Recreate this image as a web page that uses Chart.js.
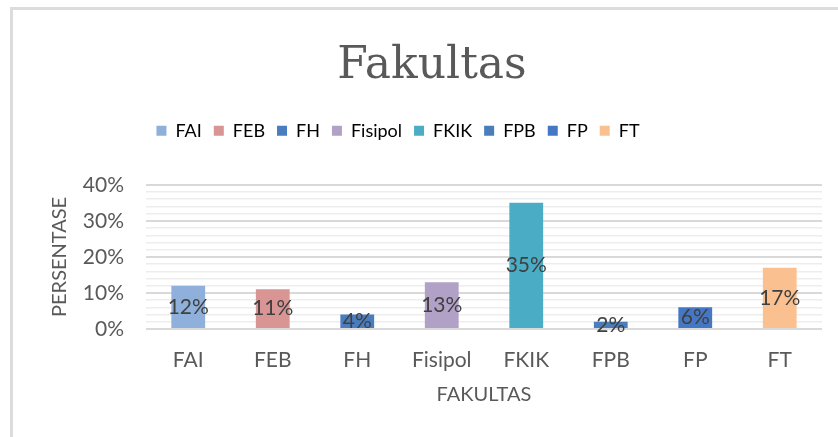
<!DOCTYPE html>
<html>
<head>
<meta charset="utf-8">
<script src="https://cdn.jsdelivr.net/npm/chart.js@4.4.0/dist/chart.umd.min.js"></script>
<style>
  html, body { margin: 0; padding: 0; background: #fff; overflow: hidden; }
  #frame {
    position: absolute; left: 10px; top: 7px; width: 900px; height: 500px;
    border: 3px solid #dcdcdc; box-sizing: border-box;
  }
  #chart { position: absolute; left: 0; top: 0; }
</style>
</head>
<body>
<div id="frame"></div>
<canvas id="chart" width="864" height="437"></canvas>
<script>
const categories = ['FAI', 'FEB', 'FH', 'Fisipol', 'FKIK', 'FPB', 'FP', 'FT'];
const values = [12, 11, 4, 13, 35, 2, 6, 17];
const barColors = ['#8EB0DA', '#D99594', '#4A7DC0', '#B2A1C7', '#4BACC6', '#4A7EBB', '#4677C4', '#FAC08F'];
const yTicks = [0, 10, 20, 30, 40];

const sans = 'Lato';
const grey = '#595959';

// labels in the middle of each bar
const barLabels = {
  id: 'barLabels',
  afterDatasetsDraw(chart) {
    const ctx = chart.ctx;
    const meta = chart.getDatasetMeta(0);
    ctx.save();
    ctx.font = '21px ' + sans;
    ctx.fillStyle = '#404040';
    ctx.textAlign = 'center';
    ctx.textBaseline = 'middle';
    meta.data.forEach((bar, i) => {
      const y = (bar.y + bar.base) / 2;
      ctx.fillText(values[i] + '%', bar.x, y);
    });
    ctx.restore();
  }
};

// excel places title / legend a little differently, nudge them
const nudgeBoxes = {
  id: 'nudgeBoxes',
  afterLayout(chart) {
    const lg = chart.legend;
    lg.top -= 35; lg.bottom -= 35;
    lg.left -= 13; lg.right -= 13;
    const t = chart.titleBlock;
    t.left += 21; t.right += 21;
  }
};

new Chart(document.getElementById('chart'), {
  type: 'bar',
  data: {
    labels: categories,
    datasets: [{
      data: values,
      backgroundColor: barColors,
      barPercentage: 0.4,
      categoryPercentage: 1
    }]
  },
  options: {
    responsive: false,
    devicePixelRatio: 1,
    animation: false,
    layout: { padding: { left: 0, right: 42, top: 0, bottom: 0 } },
    plugins: {
      tooltip: { enabled: false },
      title: {
        display: true,
        text: 'Fakultas',
        color: grey,
        font: { family: 'DejaVu Serif', size: 44, weight: 'normal' },
        padding: { top: 40, bottom: 52 }
      },
      legend: {
        display: true,
        position: 'top',
        labels: {
          color: grey,
          font: { family: sans, size: 18 },
          boxWidth: 10,
          boxHeight: 10,
          padding: 12,
          generateLabels: () => categories.map((c, i) => ({
            text: c,
            fillStyle: barColors[i],
            strokeStyle: barColors[i],
            lineWidth: 0,
            index: i
          }))
        }
      }
    },
    scales: {
      x: {
        grid: { display: false, drawTicks: false },
        border: { display: false },
        ticks: { color: grey, font: { family: sans, size: 21 }, padding: 19 },
        title: {
          display: true, text: 'FAKULTAS', color: grey,
          font: { family: sans, size: 20 }, padding: { top: 0, bottom: 30 }
        },
        afterFit: (s) => { s.height = 108; }
      },
      y: {
        min: 0,
        max: 40,
        grid: {
          drawTicks: false,
          color: (c) => yTicks.includes(c.tick.value) ? '#d9d9d9' : '#ededed',
          lineWidth: (c) => yTicks.includes(c.tick.value) ? 2 : 1.5
        },
        border: { display: false },
        ticks: {
          stepSize: 2,
          autoSkip: false,
          color: grey,
          font: { family: sans, size: 21 },
          padding: 22,
          callback: (v) => yTicks.includes(v) ? v + '%' : ''
        },
        title: {
          display: true, text: 'PERSENTASE', color: grey,
          font: { family: sans, size: 20 }, padding: { top: 48, bottom: 0 }
        },
        afterFit: (s) => { s.width = 146; }
      }
    }
  },
  plugins: [barLabels, nudgeBoxes]
});
</script>
</body>
</html>
